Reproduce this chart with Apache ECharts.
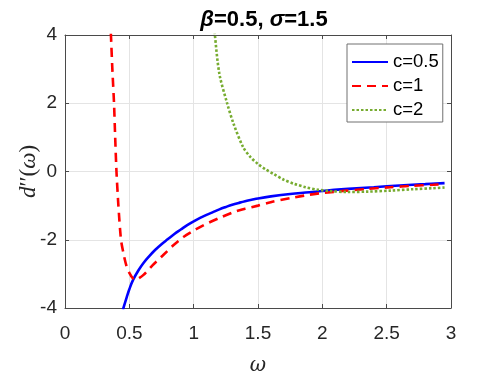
<!DOCTYPE html>
<html>
<head>
<meta charset="utf-8">
<script src="https://cdn.jsdelivr.net/npm/echarts@6/dist/echarts.min.js"></script>
<style>
html,body{margin:0;padding:0;background:#fff;}
#chart{width:498px;height:374px;}
</style>
</head>
<body>
<div id="chart"></div>
<script>
// ---- data ----
const xTicks = [0, 0.5, 1, 1.5, 2, 2.5, 3];
const yTicks = [-4, -2, 0, 2, 4];
const seriesNames = ['c=0.5', 'c=1', 'c=2'];

const omegaC05 = [0.45, 0.48, 0.50, 0.53, 0.57, 0.61, 0.65, 0.70, 0.75, 0.80, 0.85, 0.90, 0.95, 1.00, 1.05, 1.10, 1.15, 1.20, 1.25, 1.30, 1.35, 1.40, 1.45, 1.50, 1.60, 1.75, 1.90, 2.00, 2.20, 2.40, 2.60, 2.80, 2.95];
const valueC05 = [-4.05, -3.68, -3.45, -3.17, -2.90, -2.68, -2.50, -2.30, -2.13, -1.98, -1.83, -1.70, -1.57, -1.46, -1.36, -1.27, -1.19, -1.11, -1.04, -0.975, -0.92, -0.87, -0.83, -0.79, -0.73, -0.66, -0.61, -0.57, -0.51, -0.46, -0.41, -0.37, -0.34];

const omegaC1 = [0.352, 0.357, 0.368, 0.381, 0.390, 0.400, 0.415, 0.435, 0.460, 0.480, 0.500, 0.525, 0.545, 0.570, 0.610, 0.680, 0.760, 0.840, 0.920, 1.00, 1.10, 1.20, 1.31, 1.40, 1.50, 1.62, 1.75, 1.90, 2.00, 2.19, 2.35, 2.53, 2.70, 2.86, 2.95];
const valueC1 = [4.5, 4.0, 3.0, 2.0, 1.0, 0.0, -1.0, -2.0, -2.5, -2.8, -2.97, -3.12, -3.17, -3.14, -3.03, -2.75, -2.46, -2.17, -1.92, -1.73, -1.53, -1.36, -1.19, -1.09, -1.00, -0.88, -0.78, -0.68, -0.63, -0.56, -0.51, -0.46, -0.42, -0.39, -0.37];

const omegaC2 = [1.155, 1.165, 1.20, 1.26, 1.31, 1.385, 1.44, 1.50, 1.56, 1.62, 1.70, 1.78, 1.87, 1.96, 2.05, 2.19, 2.35, 2.53, 2.70, 2.86, 2.95];
const valueC2 = [4.5, 4.0, 2.86, 2.0, 1.40, 0.71, 0.43, 0.22, 0.06, -0.07, -0.24, -0.36, -0.46, -0.53, -0.57, -0.60, -0.59, -0.56, -0.52, -0.49, -0.47];

function pairs(xs, ys) { return xs.map((x, i) => [x, ys[i]]); }

const FONT = '"Liberation Sans", Arial, Helvetica, sans-serif';
const TXT = '#262626';
const AX = '#4a4a4a';

const chart = echarts.init(document.getElementById('chart'), null, {renderer: 'canvas'});

const baseAxis = {
  type: 'value',
  axisLine: {show: true, onZero: false, lineStyle: {color: AX, width: 1}},
  axisTick: {show: true, inside: true, length: 4, lineStyle: {color: AX}},
};

chart.setOption({
  animation: false,
  backgroundColor: '#fff',
  title: {
    text: '{i|β}=0.5, {i|σ}=1.5',
    left: 259,
    top: 4,
    textAlign: 'center',
    textStyle: {
      fontFamily: FONT, fontWeight: 'bold', fontSize: 22, color: '#000',
      rich: {i: {fontFamily: FONT, fontStyle: 'italic', fontWeight: 'bold', fontSize: 22, color: '#000'}}
    }
  },
  grid: {left: 65, right: 47, top: 35, bottom: 66, containLabel: false, outerBoundsMode: 'none'},
  legend: {
    orient: 'vertical',
    left: 347, top: 44,
    padding: [8, 4, 2, 4],
    itemWidth: 36, itemHeight: 12, itemGap: 4,
    backgroundColor: '#fff',
    borderColor: '#707070', borderWidth: 1,
    itemStyle: {opacity: 0},
    textStyle: {fontFamily: FONT, fontSize: 18.5, color: '#000', lineHeight: 20},
    data: seriesNames
  },
  xAxis: [
    Object.assign({}, baseAxis, {
      position: 'bottom', min: xTicks[0], max: xTicks[xTicks.length - 1], interval: 0.5,
      name: 'ω', nameLocation: 'middle', nameGap: 48, nameMoveOverlap: false,
      nameTextStyle: {fontFamily: '"DejaVu Serif", "Liberation Serif", serif', fontStyle: 'italic', fontSize: 20, color: TXT},
      axisLabel: {fontFamily: FONT, fontSize: 19, color: TXT, margin: 16},
      splitLine: {show: true, lineStyle: {color: '#e4e4e4', width: 1}}
    }),
    Object.assign({}, baseAxis, {
      position: 'top', min: xTicks[0], max: xTicks[xTicks.length - 1], interval: 0.5,
      axisLabel: {show: false}, splitLine: {show: false}
    })
  ],
  yAxis: [
    Object.assign({}, baseAxis, {
      position: 'left', min: yTicks[0], max: yTicks[yTicks.length - 1], interval: 2,
      name: '{i|d}′′({i|ω})', nameLocation: 'middle', nameGap: 25, nameRotate: 90, nameMoveOverlap: false,
      nameTextStyle: {
        fontFamily: '"Liberation Serif", serif', fontSize: 23, color: TXT,
        rich: {i: {fontFamily: '"Liberation Serif", serif', fontStyle: 'italic', fontSize: 23, color: TXT}}
      },
      axisLabel: {fontFamily: FONT, fontSize: 19, color: TXT, margin: 8},
      splitLine: {show: true, lineStyle: {color: '#e4e4e4', width: 1}}
    }),
    Object.assign({}, baseAxis, {
      position: 'right', min: yTicks[0], max: yTicks[yTicks.length - 1], interval: 2,
      axisLabel: {show: false}, splitLine: {show: false}
    })
  ],
  series: [
    {
      name: seriesNames[0], type: 'line', xAxisIndex: 0, yAxisIndex: 0,
      data: pairs(omegaC05, valueC05), smooth: 0.4, symbol: 'none', clip: true,
      itemStyle: {color: '#0000ff'},
      lineStyle: {color: '#0000ff', width: 2.6}
    },
    {
      name: seriesNames[1], type: 'line', xAxisIndex: 0, yAxisIndex: 0,
      data: pairs(omegaC1, valueC1), smooth: 0.2, symbol: 'none', clip: true,
      itemStyle: {color: '#ff0000'},
      lineStyle: {color: '#ff0000', width: 2.6, type: [9, 6]}
    },
    {
      name: seriesNames[2], type: 'line', xAxisIndex: 0, yAxisIndex: 0,
      data: pairs(omegaC2, valueC2), smooth: 0.3, symbol: 'none', clip: true,
      itemStyle: {color: '#77ac30'},
      lineStyle: {color: '#77ac30', width: 2.6, type: [2.5, 2]}
    }
  ]
});
</script>
</body>
</html>
